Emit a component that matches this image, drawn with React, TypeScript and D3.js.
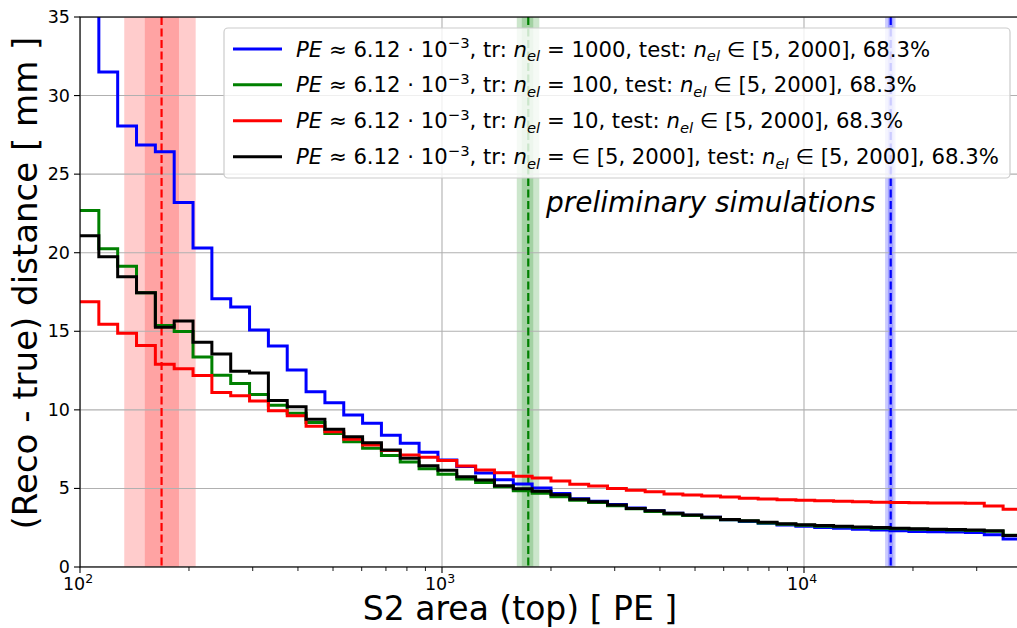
import React from "react";
import * as d3 from "d3";

// ---- data ----
const binStart = 100;
const binEnd = 40000;
const nBins = 50;

const blueVals = [40, 31.5, 28.06, 26.86, 26.43, 23.2, 20.3, 17.07, 16.55, 15.08, 14.06, 12.54, 11.15, 10.46, 9.67, 9.14, 8.38, 7.87, 7.3, 6.81, 6.4, 5.98, 5.55, 5.28, 5.02, 4.68, 4.35, 4.18, 3.97, 3.75, 3.58, 3.42, 3.3, 3.16, 3.0, 2.9, 2.78, 2.68, 2.6, 2.52, 2.46, 2.4, 2.35, 2.3, 2.26, 2.24, 2.22, 2.2, 2.05, 1.78];
const greenVals = [22.68, 20.25, 19.14, 17.46, 15.37, 14.98, 13.37, 12.2, 11.67, 10.97, 10.3, 9.78, 9.19, 8.5, 7.97, 7.55, 7.1, 6.68, 6.25, 5.9, 5.6, 5.38, 5.1, 4.86, 4.69, 4.47, 4.25, 4.1, 3.9, 3.7, 3.53, 3.38, 3.27, 3.13, 3.0, 2.92, 2.8, 2.72, 2.66, 2.6, 2.56, 2.51, 2.47, 2.44, 2.41, 2.38, 2.35, 2.32, 2.28, 2.02];
const redVals = [16.88, 15.44, 14.87, 14.09, 12.9, 12.62, 12.18, 11.1, 10.9, 10.56, 9.95, 9.62, 8.95, 8.61, 8.13, 7.76, 7.42, 7.13, 6.98, 6.77, 6.43, 6.17, 6.0, 5.78, 5.66, 5.47, 5.26, 5.15, 5.0, 4.88, 4.79, 4.65, 4.58, 4.52, 4.45, 4.38, 4.32, 4.28, 4.25, 4.21, 4.18, 4.15, 4.12, 4.1, 4.09, 4.08, 4.07, 4.05, 3.88, 3.67];
const blackVals = [21.08, 19.75, 18.47, 17.46, 15.25, 15.65, 14.3, 13.55, 12.46, 12.35, 10.59, 10.2, 9.4, 8.76, 8.29, 7.91, 7.45, 6.92, 6.45, 6.15, 5.75, 5.54, 5.17, 4.98, 4.82, 4.6, 4.31, 4.16, 3.95, 3.73, 3.58, 3.42, 3.31, 3.16, 3.03, 2.95, 2.84, 2.76, 2.69, 2.64, 2.6, 2.55, 2.51, 2.47, 2.44, 2.41, 2.38, 2.35, 2.3, 2.0];

const seriesColors = ["#0000ff", "#008000", "#ff0000", "#000000"];
const seriesTrain = ["1000", "100", "10", "∈ [5, 2000]"];

// vertical markers
const markerCenters = [168, 1731, 17360];
const markerInner = [[151, 187.7], [1661, 1787], [17050, 17650]];
const markerOuter = [[132.5, 208.7], [1609, 1857], [16750, 17900]];
const markerColors = ["#ff0000", "#008000", "#0000ff"];

const yTicks = [0, 5, 10, 15, 20, 25, 30, 35];
const xMajorExp = [2, 3, 4];

const xLabel = "S2 area (top) [ PE ]";
const yLabel = "(Reco - true) distance [ mm ]";
const annotation = "preliminary simulations";

const W = 1017, H = 628;
const L = 80, T = 17, B = 567;
const R = L + 362 * Math.log10(binEnd / binStart);

export default function App() {
  const x = d3.scaleLog().domain([binStart, binEnd]).range([L, R]);
  const y = d3.scaleLinear().domain([0, 35]).range([B, T]);
  const edges = d3.range(nBins + 1).map((i) => binStart * Math.pow(binEnd / binStart, i / nBins));

  const line = d3
    .line<[number, number]>()
    .x((d) => x(d[0]))
    .y((d) => y(d[1]))
    .curve(d3.curveStepAfter);

  const series = [blueVals, greenVals, redVals, blackVals];
  const paths = series.map((vals) => {
    const pts: [number, number][] = vals.map((v, i) => [edges[i], v]);
    pts.push([edges[nBins], vals[nBins - 1]]);
    return line(pts) as string;
  });

  const minorTicks: number[] = [];
  for (let e = 2; e <= 4; e++) {
    for (let m = 2; m <= 9; m++) {
      const v = m * Math.pow(10, e);
      if (v <= binEnd) minorTicks.push(v);
    }
  }

  const font = "DejaVu Sans, sans-serif";
  const legX = 224, legY = 28, legW = 786, legH = 150;
  const rowY = [49, 84.7, 120.7, 156.7];
  const fs = 21.2;
  const sub = 14.8;

  return (
    <svg width={W} height={H} style={{ position: "absolute", left: 0, top: 0, background: "#fff" }} fontFamily={font}>
      <defs>
        <clipPath id="plotclip">
          <rect x={L} y={T} width={R - L} height={B - T} />
        </clipPath>
      </defs>
      <rect x={0} y={0} width={W} height={H} fill="#fff" />
      <g clipPath="url(#plotclip)">
        {markerOuter.map((b, i) => (
          <rect key={"o" + i} x={x(b[0])} y={T} width={x(b[1]) - x(b[0])} height={B - T} fill={markerColors[i]} fillOpacity={0.2} />
        ))}
        {markerInner.map((b, i) => (
          <rect key={"in" + i} x={x(b[0])} y={T} width={x(b[1]) - x(b[0])} height={B - T} fill={markerColors[i]} fillOpacity={0.2} />
        ))}
        {yTicks.map((t) => (
          <line key={"gy" + t} x1={L} x2={R} y1={y(t)} y2={y(t)} stroke="#b0b0b0" strokeWidth={1.1} />
        ))}
        {xMajorExp.map((e) => (
          <line key={"gx" + e} x1={x(Math.pow(10, e))} x2={x(Math.pow(10, e))} y1={T} y2={B} stroke="#b0b0b0" strokeWidth={1.1} />
        ))}
        {markerCenters.map((c, i) => (
          <line key={"m" + i} x1={x(c)} x2={x(c)} y1={T} y2={B} stroke={markerColors[i]} strokeWidth={2.2} strokeDasharray="8,3.5" />
        ))}
        {paths.map((p, i) => (
          <path key={"s" + i} d={p} fill="none" stroke={seriesColors[i]} strokeWidth={3} strokeLinejoin="miter" />
        ))}
      </g>
      <rect x={L} y={T} width={R - L} height={B - T} fill="none" stroke="#000" strokeWidth={1.2} />
      {yTicks.map((t) => (
        <g key={"yt" + t}>
          <line x1={L - 6} x2={L} y1={y(t)} y2={y(t)} stroke="#000" strokeWidth={1.1} />
          <text x={L - 10} y={y(t) + 6} textAnchor="end" fontSize={17.5} fill="#000">{t}</text>
        </g>
      ))}
      {xMajorExp.map((e) => {
        const px = x(Math.pow(10, e));
        return (
          <g key={"xt" + e}>
            <line x1={px} x2={px} y1={B} y2={B + 6} stroke="#000" strokeWidth={1.1} />
            <text x={px - 2} y={B + 23} textAnchor="middle" fontSize={17.5} fill="#000">
              10<tspan dy={-7} fontSize={12.5}>{e}</tspan>
            </text>
          </g>
        );
      })}
      {minorTicks.map((v) => (
        <line key={"mt" + v} x1={x(v)} x2={x(v)} y1={B} y2={B + 4} stroke="#000" strokeWidth={0.9} />
      ))}
      <text x={520} y={620} textAnchor="middle" fontSize={33} fill="#000">{xLabel}</text>
      <text transform={`translate(37, 283) rotate(-90)`} textAnchor="middle" fontSize={34} fill="#000">{yLabel}</text>
      <text x={546} y={212} fontSize={28} fontStyle="italic" fill="#000">{annotation}</text>
      <rect x={legX} y={legY} width={legW} height={legH} rx={4} ry={4} fill="#fff" fillOpacity={0.8} stroke="#cccccc" strokeWidth={1.2} />
      {seriesColors.map((c, i) => (
        <g key={"lg" + i}>
          <line x1={233} x2={282} y1={rowY[i]} y2={rowY[i]} stroke={c} strokeWidth={3} />
          <text x={296} y={rowY[i] + 7.5} fontSize={fs} fill="#000">
            <tspan fontStyle="italic">PE</tspan>
            <tspan> ≈ 6.12 · 10</tspan>
            <tspan dy={-8.5} fontSize={sub}>−3</tspan>
            <tspan dy={8.5}>, tr: </tspan>
            <tspan fontStyle="italic">n</tspan>
            <tspan dy={4.5} fontSize={sub} fontStyle="italic">el</tspan>
            <tspan dy={-4.5}>{" = " + seriesTrain[i] + ", test: "}</tspan>
            <tspan fontStyle="italic">n</tspan>
            <tspan dy={4.5} fontSize={sub} fontStyle="italic">el</tspan>
            <tspan dy={-4.5}> ∈ [5, 2000], 68.3%</tspan>
          </text>
        </g>
      ))}
    </svg>
  );
}
